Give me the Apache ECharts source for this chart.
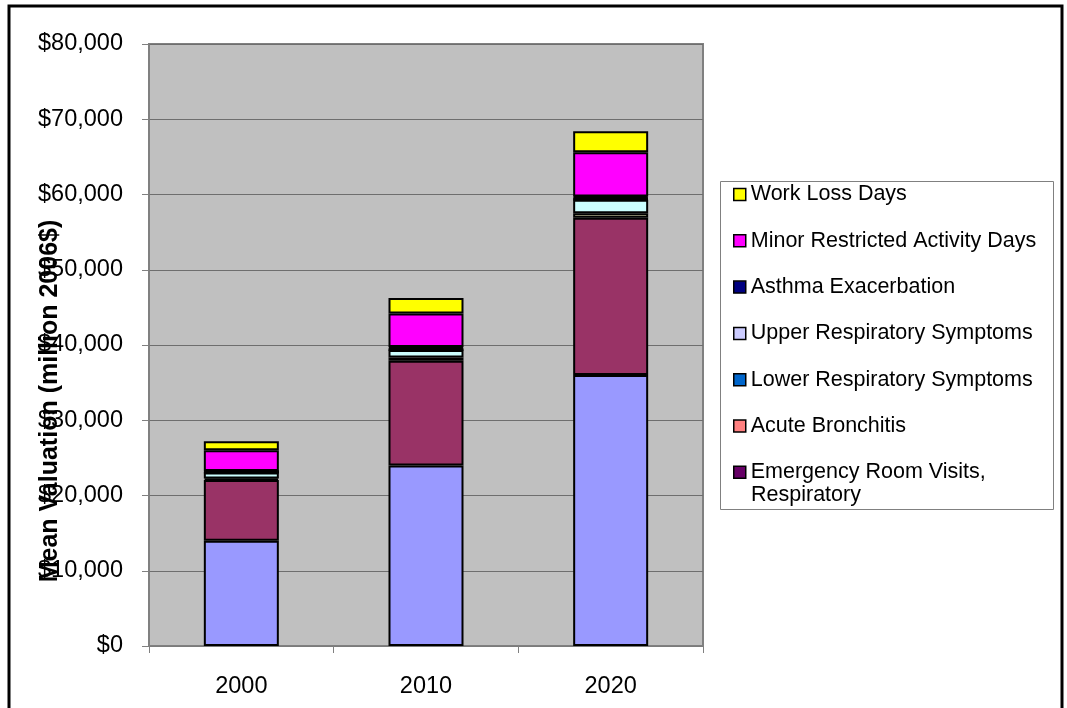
<!DOCTYPE html>
<html>
<head>
<meta charset="utf-8">
<script src="https://cdn.jsdelivr.net/npm/echarts@6/dist/echarts.min.js"></script>
<style>
  html,body{margin:0;padding:0;background:#fff;}
  #main{width:1067px;height:708px;}
</style>
</head>
<body>
<div id="main"></div>
<script>
// categories
var years = ['2000', '2010', '2020'];

// series, bottom of the stack first
// (the first four are cut off from the legend box in the original)
var chronicBronchitis = [14000, 24000, 36000];
var nonfatalHeartAttacks = [8050, 13900, 20900];
var hospAdmResp = [200, 450, 600];
var hospAdmCardio = [800, 1000, 1800];
var erVisits = [20, 30, 40];
var acuteBronchitis = [30, 70, 80];
var lowerResp = [40, 80, 90];
var upperResp = [50, 110, 110];
var asthma = [60, 110, 130];
var mrad = [2750, 4450, 5850];
var workLoss = [1200, 2050, 2800];

var yTicks = [0, 10000, 20000, 30000, 40000, 50000, 60000, 70000, 80000];

var FONT = "'Liberation Sans', Arial, sans-serif";
var ER_NAME = 'Emergency Room Visits, Respiratory';

var seriesDefs = [
  ['Chronic Bronchitis', chronicBronchitis, '#9999FF'],
  ['Nonfatal Heart Attacks', nonfatalHeartAttacks, '#993366'],
  ['Hospital Admissions, Respiratory', hospAdmResp, '#FFFFCC'],
  ['Hospital Admissions, Cardiovascular', hospAdmCardio, '#CCFFFF'],
  [ER_NAME, erVisits, '#660066'],
  ['Acute Bronchitis', acuteBronchitis, '#FF8080'],
  ['Lower Respiratory Symptoms', lowerResp, '#0066CC'],
  ['Upper Respiratory Symptoms', upperResp, '#CCCCFF'],
  ['Asthma Exacerbation', asthma, '#000080'],
  ['Minor Restricted Activity Days', mrad, '#FF00FF'],
  ['Work Loss Days', workLoss, '#FFFF00']
];

// legend only shows the last seven, top of stack first
var legendNames = seriesDefs.slice(4).map(function(d){ return d[0]; }).reverse();

function money(v){
  return '$' + String(v).replace(/\B(?=(\d{3})+(?!\d))/g, ',');
}

var myChart = echarts.init(document.getElementById('main'));
var option = {
  backgroundColor: '#fff',
  animation: false,
  textStyle: { fontFamily: FONT },
  graphic: [
    { type: 'rect', z: -10, shape: { x: 9, y: 6, width: 1053, height: 730 },
      style: { fill: 'none', stroke: '#000', lineWidth: 3 } },
    { type: 'rect', z: -5, shape: { x: 720.5, y: 181.5, width: 333, height: 328 },
      style: { fill: '#fff', stroke: '#808080', lineWidth: 1 } },
    { type: 'text', z: 10, x: 751, y: 495,
      style: { text: 'Respiratory', font: '21.5px ' + FONT, fill: '#000', verticalAlign: 'middle' } },
    { type: 'text', z: 10, x: 50, y: 401, rotation: Math.PI / 2,
      style: { text: 'Mean Valuation (million 2006$)', font: 'bold 25px ' + FONT, fill: '#000',
               align: 'center', verticalAlign: 'middle' } }
  ],
  grid: {
    left: 149, top: 44, right: 364, bottom: 62,
    show: true, backgroundColor: '#C0C0C0', borderColor: '#808080', borderWidth: 2
  },
  legend: {
    orient: 'vertical',
    left: 733, top: 182.5,
    padding: 0,
    itemWidth: 12, itemHeight: 12,
    itemGap: 22.3,
    icon: 'rect',
    itemStyle: { borderColor: '#000', borderWidth: 1.5 },
    textStyle: { fontSize: 21.5, lineHeight: 24, color: '#000', fontFamily: FONT },
    data: legendNames,
    formatter: function(name){ return name === ER_NAME ? 'Emergency Room Visits,' : name; }
  },
  xAxis: {
    type: 'category',
    data: years,
    axisLine: { lineStyle: { color: '#808080', width: 1.5 } },
    axisTick: { show: true, length: 7, lineStyle: { color: '#808080' } },
    axisLabel: { fontSize: 23.5, color: '#000', margin: 29, fontFamily: FONT }
  },
  yAxis: {
    type: 'value',
    min: yTicks[0], max: yTicks[yTicks.length - 1], interval: yTicks[1] - yTicks[0],
    axisLine: { show: true, lineStyle: { color: '#808080', width: 1.5 } },
    axisTick: { show: true, length: 7, lineStyle: { color: '#808080' } },
    axisLabel: { fontSize: 23.5, color: '#000', margin: 26, fontFamily: FONT, formatter: money },
    splitLine: { lineStyle: { color: '#6e6e6e', width: 1 } }
  },
  series: seriesDefs.map(function(d){
    return {
      name: d[0],
      type: 'bar',
      stack: 'total',
      barWidth: 75,
      data: d[1],
      itemStyle: { color: d[2], borderColor: '#000', borderWidth: 2 },
      emphasis: { disabled: true }
    };
  })
};
myChart.setOption(option);
</script>
</body>
</html>
